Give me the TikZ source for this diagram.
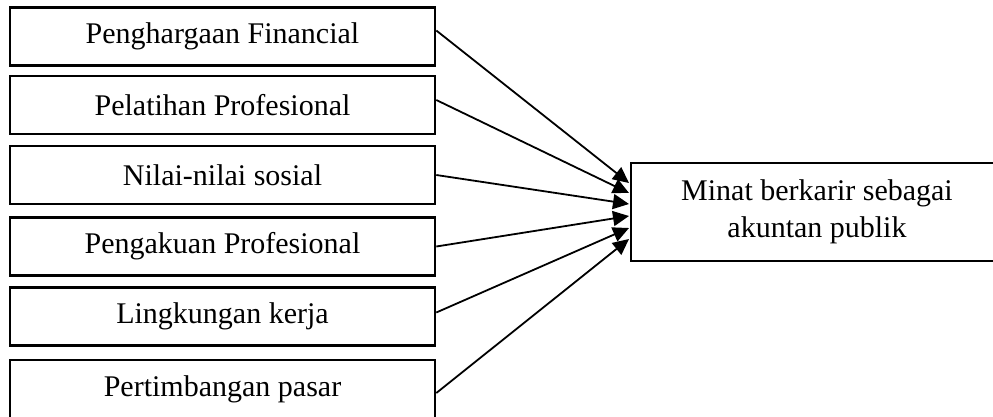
\documentclass[tikz,border=0pt]{standalone}
\usepackage{fontspec}
\setmainfont{Liberation Serif}
\usetikzlibrary{arrows.meta}

\begin{document}
\begin{tikzpicture}[
    x=1pt, y=-1pt,
    factorbox/.style={shape=rectangle, draw=black, line width=2.6pt, minimum width=425pt, minimum height=58pt, inner sep=0pt, font=\fontsize{30}{37}\selectfont},
    targetbox/.style={shape=rectangle, draw=black, line width=2.6pt, minimum width=372pt, minimum height=98pt, inner sep=0pt, align=center, font=\fontsize{30}{37}\selectfont},
    link/.style={-{Triangle[length=16pt,width=15pt]}, line width=1.8pt},
]
\useasboundingbox (0,0) rectangle (993,416);
\node[factorbox] (fin) at (222.5,36.5) {Penghargaan Financial};
\node[factorbox] (pel) at (222.5,105) {Pelatihan Profesional};
\node[factorbox] (nil) at (222.5,175) {Nilai-nilai sosial};
\node[factorbox] (pen) at (222.5,246.5) {Pengakuan Profesional};
\node[factorbox] (lin) at (222.5,316.5) {Lingkungan kerja};
\node[factorbox] (per) at (222.5,389) {Pertimbangan pasar};
\node[targetbox] (minat) at (817,212) {Minat berkarir sebagai\\akuntan publik};

\coordinate (t1) at (629,183);
\coordinate (t2) at (629,193);
\coordinate (t3) at (629,204);
\coordinate (t4) at (629,216);
\coordinate (t5) at (629,228);
\coordinate (t6) at (629,239);

\path[link]
    ([yshift=6pt]fin.east) edge (t1)
    ([yshift=5pt]pel.east) edge (t2)
    (nil.east) edge (t3)
    (pen.east) edge (t4)
    ([yshift=4pt]lin.east) edge (t5)
    ([yshift=-4pt]per.east) edge (t6)
;
\end{tikzpicture}
\end{document}
